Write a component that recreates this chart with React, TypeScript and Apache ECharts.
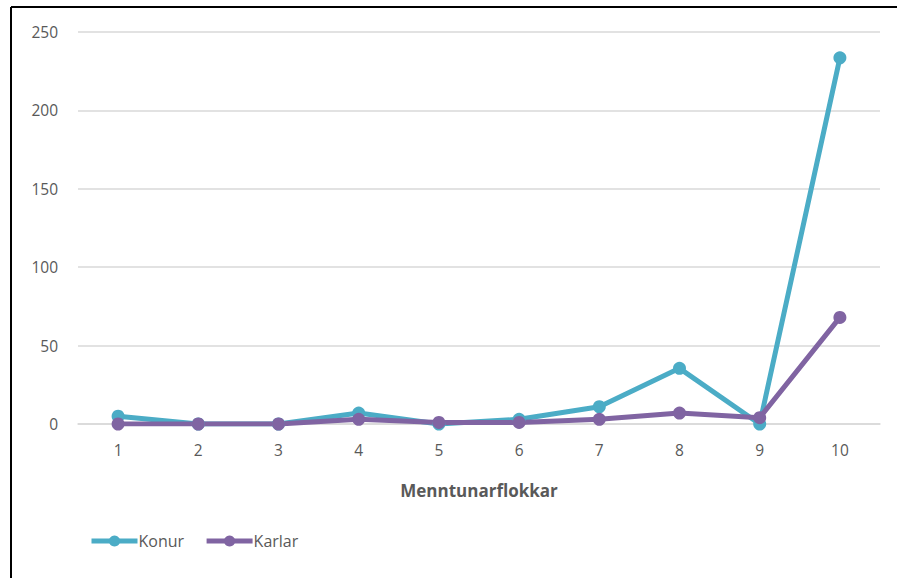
import React, { useEffect, useRef } from "react";
import * as echarts from "echarts";

const categories = ["1", "2", "3", "4", "5", "6", "7", "8", "9", "10"];
const konur = [5, 0, 0, 7, 0, 3, 11, 35.5, 0, 233.5];
const karlar = [0, 0, 0, 3, 1, 1, 3, 7, 4, 68];
const yTicks = { min: 0, max: 250, interval: 50 };

const FONT = "'Open Sans', 'Noto Sans', sans-serif";

export default function App() {
  const ref = useRef<HTMLDivElement>(null);
  useEffect(() => {
    document.body.style.margin = "0";
    const chart = echarts.init(ref.current!, undefined, { renderer: "svg" });
    chart.setOption({
      animation: false,
      backgroundColor: "#ffffff",
      textStyle: { fontFamily: FONT },
      grid: { left: 78, right: 17, top: 32, bottom: 154, containLabel: false },
      graphic: [
        { type: "line", shape: { x1: 11, y1: 7, x2: 897, y2: 7 }, style: { stroke: "#000", lineWidth: 2 } },
        { type: "line", shape: { x1: 11, y1: 7, x2: 11, y2: 578 }, style: { stroke: "#000", lineWidth: 2 } },
      ],
      legend: {
        left: 84,
        top: 528,
        itemWidth: 46,
        itemHeight: 14,
        itemGap: 20,
        lineStyle: { width: 5 },
        textStyle: { color: "#595959", fontSize: 16, fontFamily: FONT, padding: [0, 0, 0, -4] },
        data: ["Konur", "Karlar"],
      },
      xAxis: {
        type: "category",
        data: categories,
        boundaryGap: true,
        name: "Menntunarflokkar",
        nameLocation: "middle",
        nameGap: 58,
        nameTextStyle: { color: "#595959", fontSize: 17, fontWeight: "bold", fontFamily: FONT },
        axisLine: { show: true, lineStyle: { color: "#d9d9d9", width: 1.5 } },
        axisTick: { show: false },
        axisLabel: { color: "#595959", fontSize: 15.5, margin: 18, fontFamily: FONT },
      },
      yAxis: {
        type: "value",
        min: yTicks.min,
        max: yTicks.max,
        interval: yTicks.interval,
        axisLine: { show: false },
        axisTick: { show: false },
        axisLabel: { color: "#595959", fontSize: 15.5, margin: 20, fontFamily: FONT },
        splitLine: { lineStyle: { color: "#d9d9d9", width: 1.5 } },
      },
      series: [
        {
          name: "Konur",
          type: "line",
          data: konur,
          symbol: "circle",
          symbolSize: 13,
          itemStyle: { color: "#4BACC6" },
          lineStyle: { color: "#4BACC6", width: 5 },
        },
        {
          name: "Karlar",
          type: "line",
          data: karlar,
          symbol: "circle",
          symbolSize: 13,
          itemStyle: { color: "#8064A2" },
          lineStyle: { color: "#8064A2", width: 5 },
        },
      ],
    });
    return () => chart.dispose();
  }, []);
  return <div ref={ref} style={{ width: 897, height: 578 }} />;
}
